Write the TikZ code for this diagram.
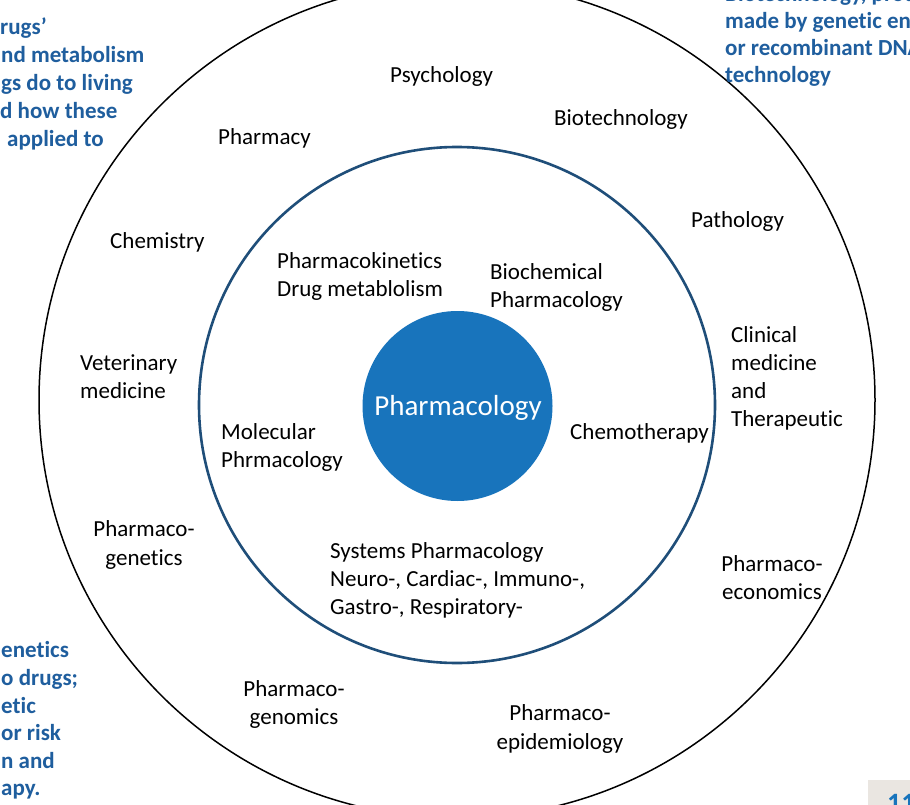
\documentclass[tikz,border=0pt]{standalone}
\usepackage{fontspec}
\setmainfont{Carlito}[Ligatures={NoCommon,NoContextual,NoRare},Contextuals={NoAlternate}]
\definecolor{txtblue}{HTML}{1F5E9E}
\definecolor{ringblue}{HTML}{1F4E79}
\definecolor{corefill}{HTML}{1874BC}
\definecolor{pagebox}{HTML}{EAE6E1}
\tikzset{
  lbl/.style={inner sep=0pt, anchor=base west, font=\fontsize{23}{28}\selectfont, text=black},
  lblc/.style={lbl, anchor=base},
  note/.style={inner sep=0pt, anchor=base west, font=\fontsize{23}{28}\selectfont\bfseries, text=txtblue},
}
\begin{document}
\begin{tikzpicture}[x=1pt,y=-1pt]
\clip (0,0) rectangle (910,805);
\fill[white] (0,0) rectangle (910,805);
% circles
\draw[line width=1.5pt, black] (457,400) circle[radius=418];
\draw[line width=2.6pt, ringblue] (457,405) circle[radius=258];
\fill[corefill] (457.5,406) circle[radius=95];
\node[inner sep=0pt, anchor=base, font=\fontsize{29}{34}\selectfont, text=white] (core) at (458,415) {Pharmacology};
% outer ring labels
\node[lbl] (psy) at (390,83) {Psychology};
\node[lbl] (biot) at (554,126) {Biotechnology};
\node[lbl] (phy) at (218,145) {Pharmacy};
\node[lbl] (path) at (691,228) {Pathology};
\node[lbl] (chem) at (110,248) {Chemistry};
\node[lbl] (cl1) at (731,342) {Clinical};
\node[lbl] (cl2) at (731,370) {medicine};
\node[lbl] (cl3) at (731,398) {and};
\node[lbl] (cl4) at (731,426) {Therapeut\kern0pt ic};
\node[lbl] (vet1) at (80,370) {Veterinary};
\node[lbl] (vet2) at (80,398) {medicine};
\node[lblc] (pg1) at (144,536) {Pharmaco-};
\node[lblc] (pg2) at (144,565) {genetics};
\node[lblc] (pe1) at (772,571) {Pharmaco-};
\node[lblc] (pe2) at (772,599) {economics};
\node[lblc] (pgm1) at (294,696) {Pharmaco-};
\node[lblc] (pgm2) at (294,724) {genomics};
\node[lblc] (pep1) at (560,720) {Pharmaco-};
\node[lblc] (pep2) at (560,749) {epidemiology};
% inner ring labels
\node[lbl] (pk1) at (277,268) {Pharmacokinet\kern0pt ics};
\node[lbl] (pk2) at (277,296) {Drug metablolism};
\node[lbl] (bc1) at (490,279) {Biochemical};
\node[lbl] (bc2) at (490,307) {Pharmacology};
\node[lbl] (mol1) at (221,439) {Molecular};
\node[lbl] (mol2) at (221,467) {Phrmacology};
\node[lbl] (chemo) at (570,439) {Chemotherapy};
\node[lbl] (sys1) at (330,558) {Systems Pharmacology};
\node[lbl] (sys2) at (330,586) {Neuro-, Cardiac-, Immuno-,};
\node[lbl] (sys3) at (330,614) {Gastro-, Respiratory-};
% cut-off blue notes, top left
\node[note] (tl1) at (0,35) {rugs’};
\node[note] (tl2) at (1,63) {nd metabolism};
\node[note] (tl3) at (1,91) {gs do to living};
\node[note] (tl4) at (0,119) {d how these};
\node[note] (tl5) at (7,147) {applied to};
% top right
\node[note] (tr1) at (725,2) {Biotechnology, products};
\node[note] (tr2) at (725,29) {made by genet\kern0pt ic engineering};
\node[note] (tr3) at (725,56) {or recombinant DNA};
\node[note] (tr4) at (725,83) {technology};
% bottom left
\node[note] (bl1) at (1,657) {enet\kern0pt ics};
\node[note] (bl2) at (1,685) {o drugs;};
\node[note] (bl3) at (1,713) {et\kern0pt ic};
\node[note] (bl4) at (1,740) {or risk};
\node[note] (bl5) at (1,768) {n and};
\node[note] (bl6) at (1,795) {apy.};
% page number box
\fill[pagebox] (868,780) rectangle (910,805);
\node[inner sep=0pt, anchor=base west, font=\fontsize{28}{32}\selectfont\bfseries, text=corefill] (pgno) at (887,812) {11};
\end{tikzpicture}
\end{document}
